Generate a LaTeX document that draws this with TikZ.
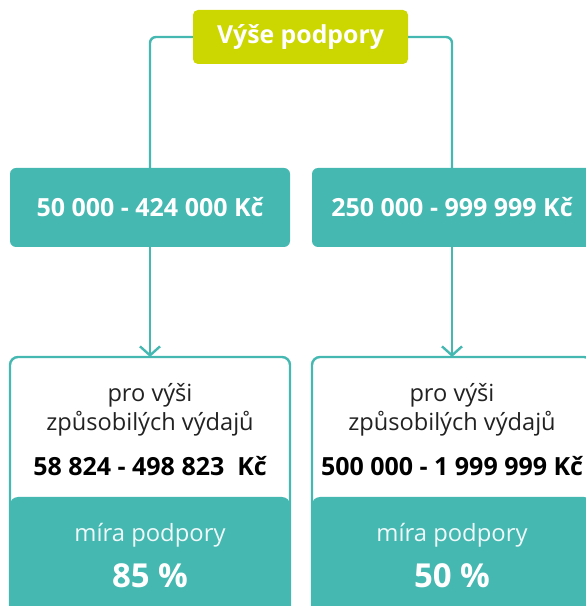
\documentclass[tikz,border=0pt]{standalone}
\usepackage{fontspec}
\setmainfont{Open Sans}
\usetikzlibrary{arrows.meta}
\definecolor{teal1}{HTML}{44B8B1}
\definecolor{lime1}{HTML}{CCD600}
\definecolor{txtgray}{HTML}{222222}
\tikzset{
  conn/.style={draw=teal1, line width=2.4pt, rounded corners=6pt},
  arr/.style={draw=teal1, line width=2.4pt, -{Straight Barb[length=9pt,width=20pt,line width=2.4pt]}},
  topbox/.style={fill=lime1, rounded corners=5pt, minimum width=215pt, minimum height=54pt, inner sep=0pt, text=white, font=\fontsize{24.8}{29}\selectfont\bfseries},
  midbox/.style={fill=teal1, rounded corners=6pt, minimum width=280pt, minimum height=79pt, inner sep=0pt, text=white, font=\fontsize{25}{30}\selectfont\bfseries},
  lightbox/.style={draw=teal1, line width=2.4pt, fill=white, rounded corners=8pt},
  ratebox/.style={fill=teal1, rounded corners=8pt},
  lighttxt/.style={text=txtgray, font=\fontsize{23.6}{28}\selectfont, inner sep=0pt},
  boldtxt/.style={text=black, font=\fontsize{25}{30}\selectfont\bfseries, inner sep=0pt},
  ratelbl/.style={text=white!92!teal1, font=\fontsize{23.8}{28}\selectfont, inner sep=0pt},
  ratenum/.style={text=white, font=\fontsize{33}{38}\selectfont\bfseries, inner sep=0pt}
}
\begin{document}
\begin{tikzpicture}[x=1pt,y=1pt]
\useasboundingbox (0,0) rectangle (586,606);
\clip (0,0) rectangle (586,606);
% bottom boxes
\draw[lightbox] (10,-30) rectangle (290,249);
\fill[ratebox] (10,-30) rectangle (290,109);
\draw[lightbox] (312,-30) rectangle (592,249);
\fill[ratebox] (312,-30) rectangle (592,109);
\coordinate (lb) at (150,249);
\coordinate (rb) at (452,249);
% top and middle
\node[topbox] (top) at (300.5,569) {Výše podpory};
\node[midbox] (l1) at (150,398.5) {50 000 - 424 000 Kč};
\node[midbox] (r1) at (452,398.5) {250 000 - 999 999 Kč};
\draw[conn] (top.west) -| (l1.north);
\draw[conn] (top.east) -| (r1.north);
\draw[arr] (l1.south) -- (lb);
\draw[arr] (r1.south) -- (rb);
% texts left
\node[lighttxt] (la) at (150,211) {pro výši};
\node[lighttxt] (lc) at (150,182) {způsobilých výdajů};
\node[boldtxt] (ld) at (150,140) {58 824 - 498 823 \ Kč};
\node[ratelbl] (le) at (150,71) {míra podpory};
\node[ratenum] (lf) at (150,30) {85 \%};
% texts right
\node[lighttxt] (ra) at (452,211) {pro výši};
\node[lighttxt] (rc) at (452,182) {způsobilých výdajů};
\node[boldtxt] (rd) at (452,140) {500 000 - 1 999 999 Kč};
\node[ratelbl] (re) at (452,71) {míra podpory};
\node[ratenum] (rf) at (452,30) {50 \%};
\end{tikzpicture}
\end{document}
